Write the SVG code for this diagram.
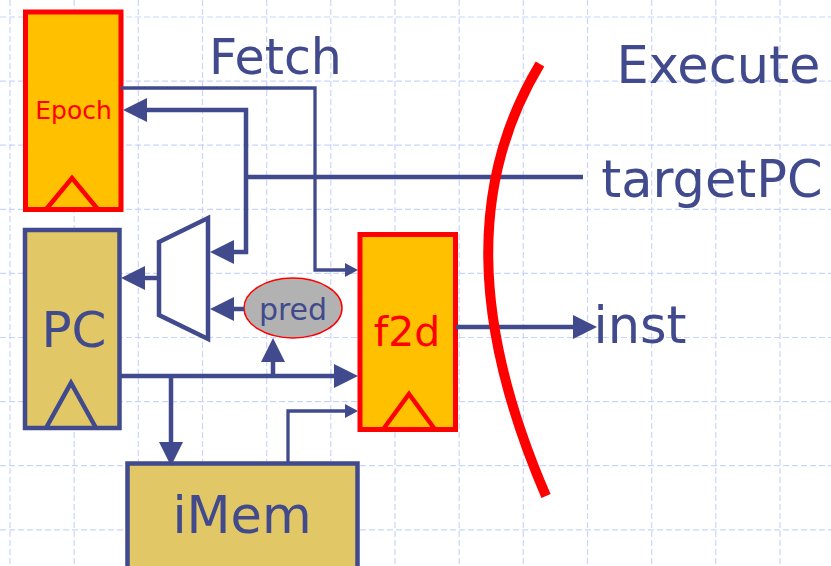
<svg xmlns="http://www.w3.org/2000/svg" width="831" height="566" viewBox="0 0 831 566">
<style>
.grid{fill:none;stroke:#C9D6FB;stroke-width:1.2;stroke-dasharray:6 3}
.reg{fill:#FFC000;stroke:#FF0000;stroke-width:5}
.blk{fill:#E2C766;stroke:#404A8C;stroke-width:4.5}
.clkr{fill:none;stroke:#FF0000;stroke-width:4.5;stroke-linejoin:miter}
.clkb{fill:none;stroke:#404A8C;stroke-width:4.5;stroke-linejoin:miter}
.w{fill:none;stroke:#404A8C;stroke-width:4.5}
.t{fill:none;stroke:#404A8C;stroke-width:3.3}
.lbl{font-family:"DejaVu Sans","Liberation Sans",sans-serif;fill:#404A8C;text-anchor:middle}
.rlbl{font-family:"DejaVu Sans","Liberation Sans",sans-serif;fill:#FF0000;text-anchor:middle}
</style>
<defs>
<marker id="big" markerUnits="userSpaceOnUse" markerWidth="24" markerHeight="24" viewBox="0 0 24 24" refX="2" refY="12" orient="auto">
<path d="M0,0 L24,12 L0,24 z" fill="#404A8C"/>
</marker>
<marker id="small" markerUnits="userSpaceOnUse" markerWidth="13" markerHeight="14" viewBox="0 0 13 14" refX="2" refY="7" orient="auto">
<path d="M0,0 L13,7 L0,14 z" fill="#404A8C"/>
</marker>
</defs>
<rect width="831" height="566" fill="#FFFFFF"/>
<path class="grid" d="M10 0V566M74.2 0V566M138.3 0V566M202.5 0V566M266.7 0V566M330.8 0V566M395 0V566M459.2 0V566M523.3 0V566M587.5 0V566M651.7 0V566M715.8 0V566M780 0V566M0 17H831M0 81.1H831M0 145.2H831M0 209.3H831M0 273.4H831M0 337.5H831M0 401.6H831M0 465.7H831M0 529.8H831"/>

<g id="epoch">
<rect class="reg" x="25.5" y="12" width="95.5" height="197.5"/>
<path class="clkr" d="M46 209.5 L72 178 L98 209.5"/>
<text class="rlbl" x="73.5" y="119" font-size="25">Epoch</text>
</g>

<g id="pc">
<rect class="blk" x="25" y="230" width="94.5" height="198"/>
<path class="clkb" d="M46 428 L71 383 L96 428"/>
<text class="lbl" x="74" y="347" font-size="50">PC</text>
</g>

<g id="imem">
<rect class="blk" x="127.5" y="463.5" width="230" height="110"/>
<text class="lbl" x="242" y="533" font-size="51">iMem</text>
</g>

<g id="f2d">
<rect class="reg" x="360" y="234.5" width="95.5" height="195"/>
<path class="clkr" d="M383 429.5 L409 394 L435 429.5"/>
<text class="rlbl" x="407" y="346" font-size="41">f2d</text>
</g>

<g id="mux">
<polygon points="159,242 208,218 208,339 159,315" fill="#FFFFFF" stroke="#404A8C" stroke-width="4.5" stroke-linejoin="miter"/>
</g>

<g id="pred">
<ellipse cx="293" cy="308" rx="49" ry="30" fill="#B2B2B2" stroke="#FF0000" stroke-width="1.5"/>
<text class="lbl" x="293" y="320" font-size="30">pred</text>
</g>

<g id="connectors">
<path class="t" d="M121 88 H315 V270 H347" marker-end="url(#small)"/>
<path class="w" d="M583 177 H246"/>
<path class="w" d="M246 177 V110 H145" marker-end="url(#big)"/>
<path class="w" d="M246 177 V252 H232" marker-end="url(#big)"/>
<path class="w" d="M159 278 H143" marker-end="url(#big)"/>
<path class="w" d="M244 309 H232" marker-end="url(#big)"/>
<path class="w" d="M119 376 H336" marker-end="url(#big)"/>
<path class="w" d="M273 376 V360" marker-end="url(#big)"/>
<path class="w" d="M171 376 V444" marker-end="url(#big)"/>
<path class="t" d="M288 463 V411 H347" marker-end="url(#small)"/>
<path class="w" d="M456 327 H575" marker-end="url(#big)"/>
</g>

<g id="boundary">
<path d="M540 64 C470 180, 470 320, 546 496" fill="none" stroke="#FF0000" stroke-width="10"/>
</g>

<g id="labels">
<text class="lbl" x="275.5" y="74" font-size="49">Fetch</text>
<text class="lbl" x="718.5" y="83" font-size="51">Execute</text>
<text class="lbl" x="712" y="197" font-size="51">targetPC</text>
<text class="lbl" x="640" y="343" font-size="51">inst</text>
</g>
</svg>
